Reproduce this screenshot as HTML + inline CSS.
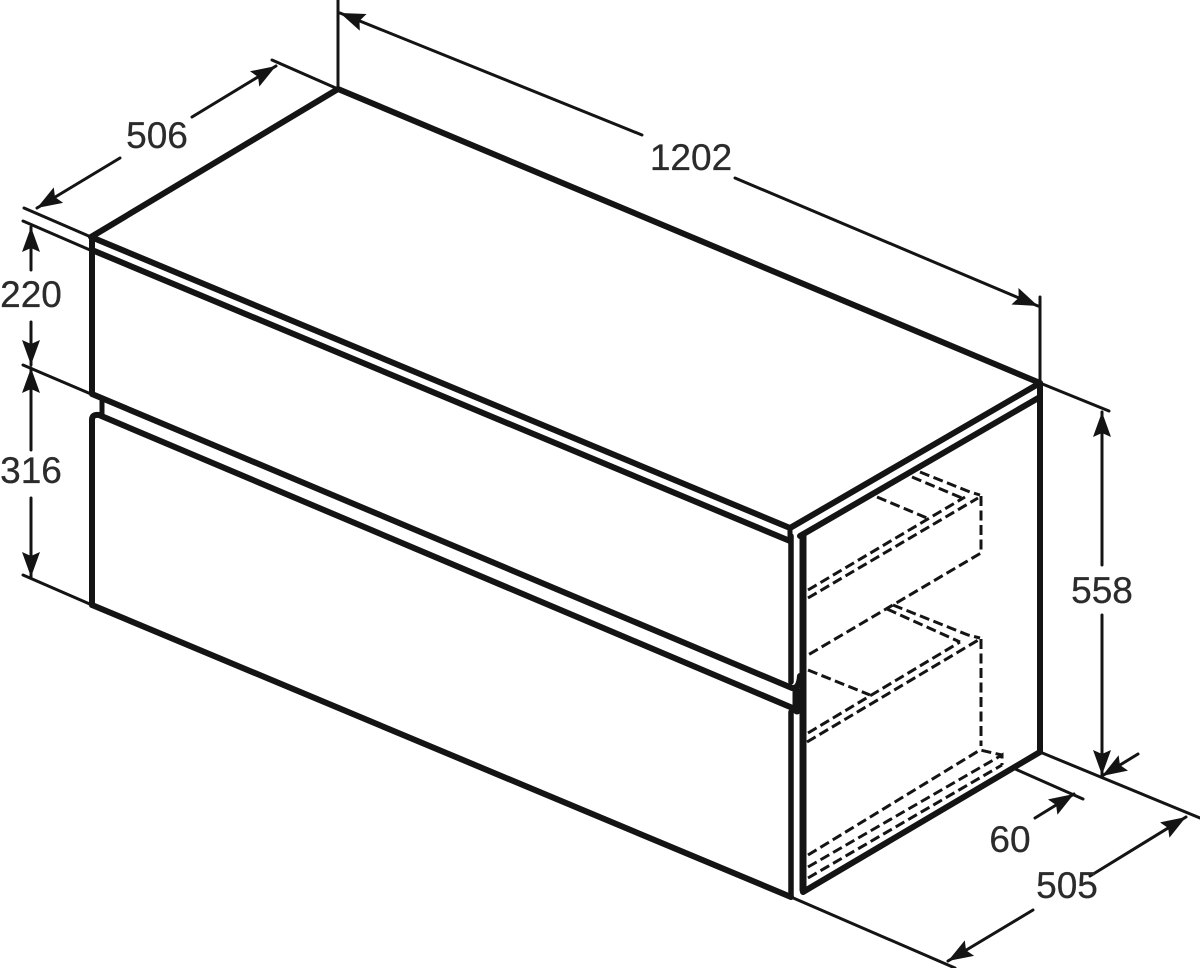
<!DOCTYPE html>
<html><head><meta charset="utf-8"><style>
html,body{margin:0;padding:0;background:#fff;width:1200px;height:968px;overflow:hidden}
svg{display:block}
text{font-family:"Liberation Sans",sans-serif;font-size:37px;fill:#2b2b2b;stroke:#2b2b2b;stroke-width:.3;text-anchor:middle}
</style></head><body>
<svg width="1200" height="968" viewBox="0 0 1200 968" xmlns="http://www.w3.org/2000/svg">
<defs>
<marker id="a" markerUnits="userSpaceOnUse" markerWidth="28" markerHeight="20" refX="25" refY="9" orient="auto-start-reverse"><polygon points="0,0 25,9 0,18 4,9" fill="#141414"/></marker>
</defs>
<g fill="none" stroke="#141414" stroke-width="6" stroke-linecap="round" stroke-linejoin="round">
<path d="M91 237L338 89L1040 383L790 528Z"/>
<path d="M92 250L790 541"/>
<path d="M800 536L1040 397"/>
<path d="M92 237V394M92 394L792 688Q799 689 800 676"/>
<path d="M102 398V414" stroke-width="5"/>
<path d="M92 605V420Q92 414 99 415L795 709"/>
<path d="M92 605L791 897"/>
<path d="M791 536V682M791 712V897" stroke-width="5.5"/>
<path d="M803 536V890" stroke-width="7"/>
<path d="M797 692V710" stroke-width="9"/>
<path d="M803 892L1040 752"/>
<path d="M1040 383V752"/>
<path d="M790 528V541" stroke-width="5"/>
</g>
<g fill="none" stroke="#141414" stroke-width="3" stroke-dasharray="10 4.5">
<path d="M808 590L965 497"/><path d="M808 598L978 498"/>
<path d="M920 472L970 492L980 495"/><path d="M912 477L962 498"/>
<path d="M981 496V553L808 655"/>
<path d="M877 497L927 518"/>
<path d="M893 605L968 635L980 638"/><path d="M887 609L960 642"/>
<path d="M981 639V746"/>
<path d="M808 670L870 695"/>
<path d="M808 733L960 642"/><path d="M807 742L980 639"/>
<path d="M808 855L980 750L1002 755"/>
<path d="M808 867L1002 755V765"/>
<path d="M808 878L1002 765"/>
</g>
<g fill="none" stroke="#141414" stroke-width="3" stroke-linecap="round">
<path d="M338 0V89"/><path d="M1040 297V383"/>
<path d="M272 60L338 89"/><path d="M24 208L91 237"/>
<path d="M23 221L90 250"/><path d="M23 365L91 394"/><path d="M23 575L92 605"/>
<path d="M1040 383L1109 411"/>
<path d="M1040 752L1200 818"/>
<path d="M1013 768L1083 799"/>
<path d="M791 897L955 968"/>
<path d="M340 13L642 135" marker-start="url(#a)"/>
<path d="M735 178L1038 306" marker-end="url(#a)"/>
<path d="M37 208L120 158" marker-start="url(#a)"/>
<path d="M192 117L276 66" marker-end="url(#a)"/>
<path d="M31 227V270" marker-start="url(#a)"/>
<path d="M31 322V365" marker-end="url(#a)"/>
<path d="M31 368V450" marker-start="url(#a)"/>
<path d="M31 498V577" marker-end="url(#a)"/>
<path d="M1102 412V565" marker-start="url(#a)"/>
<path d="M1102 615V775" marker-end="url(#a)"/>
<path d="M1035 818L1074 794" marker-end="url(#a)"/>
<path d="M1102 776L1138 754" marker-start="url(#a)"/>
<path d="M948 961L1033 910" marker-start="url(#a)"/>
<path d="M1090 876L1186 817" marker-end="url(#a)"/>
</g>
<text x="157" y="148">506</text>
<text x="691" y="170">1202</text>
<text x="31" y="307">220</text>
<text x="31" y="483">316</text>
<text x="1102" y="603">558</text>
<text x="1010" y="852">60</text>
<text x="1067" y="898">505</text>
</svg>
</body></html>
